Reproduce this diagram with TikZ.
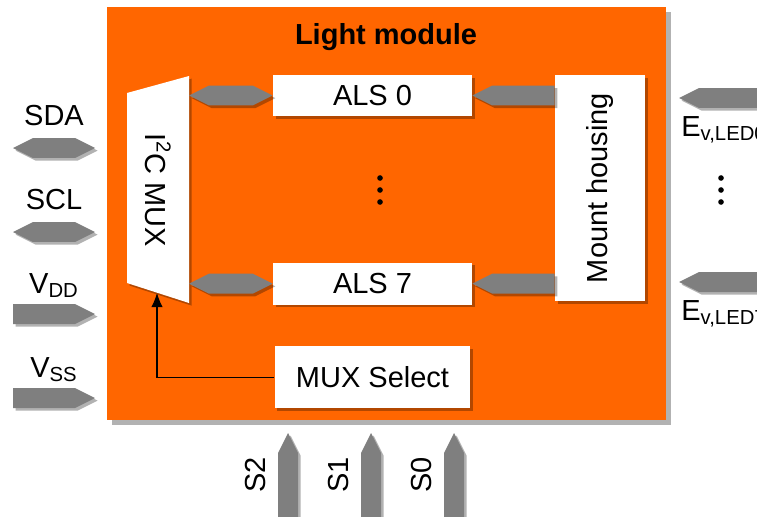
\documentclass[tikz,border=0pt]{standalone}
\usepackage{fontspec}
\setmainfont{Liberation Sans}
\usepackage{graphicx}
\usetikzlibrary{arrows.meta,calc,positioning,shadows}
\definecolor{modorange}{HTML}{FF6600}
\definecolor{pingray}{HTML}{7F7F7F}

\begin{document}
\begin{tikzpicture}[x=0.02cm,y=-0.02cm,>={Latex[length=8pt,width=6.5pt]},
  every node/.style={font=\fontsize{16.5}{19}\selectfont},
  softshadow/.style={drop shadow={shadow xshift=#1,shadow yshift=-#1,opacity=0.3,fill=black}},
  softshadow/.default=1.5pt,
  block/.style={fill=white,inner sep=0pt,minimum width=3.98cm,softshadow},
  busarrow/.style={fill=pingray,softshadow,to path={-- ($(\tikztostart)!0.4cm!(\tikztotarget)!0.2cm!90:(\tikztotarget)$) -- ($(\tikztotarget)!0.4cm!(\tikztostart)!0.2cm!-90:(\tikztostart)$) -- (\tikztotarget) -- ($(\tikztotarget)!0.4cm!(\tikztostart)!0.2cm!90:(\tikztostart)$) -- ($(\tikztostart)!0.4cm!(\tikztotarget)!0.2cm!-90:(\tikztotarget)$) -- cycle}},
  padarrow/.style={fill=pingray,softshadow,to path={($(\tikztostart)!0.2cm!90:(\tikztotarget)$) -- ($(\tikztotarget)!0.4cm!(\tikztostart)!0.2cm!-90:(\tikztostart)$) -- (\tikztotarget) -- ($(\tikztotarget)!0.4cm!(\tikztostart)!0.2cm!90:(\tikztostart)$) -- ($(\tikztostart)!0.2cm!-90:(\tikztotarget)$) -- cycle}}]
\useasboundingbox (0,0) rectangle (757,517);

% module body
\node[fill=modorange,minimum width=11.18cm,minimum height=8.26cm,softshadow=3pt] (module) at (386.5,213.5) {};
\node[font=\bfseries\fontsize{16.5}{19}\selectfont,anchor=base] (title) at (386,45) {Light module};

% i2c mux
\coordinate (muxNW) at (127,93);
\coordinate (muxNE) at (189,76);
\coordinate (muxSE) at (189,303);
\coordinate (muxSW) at (127,283);
\fill[white,softshadow] (muxNW) -- (muxNE) -- (muxSE) -- (muxSW) -- cycle;
\node[rotate=-90] (mux) at (158,190) {I\textsuperscript{2}C MUX};
\coordinate (muxbot) at (157,293);

% sensors and select
\node[block,minimum height=0.82cm] (als0) at (372.5,95.5) {ALS 0};
\node[block,minimum height=0.84cm,below=2.92cm of als0] (als7) {ALS 7};
\node[block,minimum width=3.92cm,minimum height=1.24cm,below=0.82cm of als7] (sel) {MUX Select};
\node[block,minimum width=1.8cm,minimum height=4.52cm] (mount) at (600,188) {\rotatebox{90}{Mount housing}};
\foreach \y in {178,190,202} \fill (380,\y) circle (1.6pt);

% inner connectors
\coordinate (m0) at (muxNE |- als0.west);
\coordinate (m7) at (muxNE |- als7.west);
\fill[busarrow] (m0) to (als0.west);
\fill[busarrow] (m7) to (als7.west);
\coordinate (h0) at (mount.west |- als0.east);
\coordinate (h7) at (mount.west |- als7.east);
\fill[padarrow] (h0) to (als0.east);
\fill[padarrow] (h7) to (als7.east);
\draw[->,line width=0.6pt] (sel.west) -| (muxbot);

% left pins
\coordinate (sdaA) at (13,148); \coordinate (sdaB) at (95,148);
\coordinate (sclA) at (13,232); \coordinate (sclB) at (95,232);
\coordinate (vddA) at (13,314); \coordinate (vddB) at (95,314);
\coordinate (vssA) at (13,398); \coordinate (vssB) at (95,398);
\fill[busarrow] (sdaA) to (sdaB);
\fill[busarrow] (sclA) to (sclB);
\fill[padarrow] (vddA) to (vddB);
\fill[padarrow] (vssA) to (vssB);
\node[anchor=base] (sda) at (54,126) {SDA};
\node[anchor=base] (scl) at (54,209) {SCL};
\node[anchor=base] (vdd) at (54,293) {V\textsubscript{DD}};
\node[anchor=base] (vss) at (54,377) {V\textsubscript{SS}};

% right pins
\coordinate (led0A) at (790,98); \coordinate (led0B) at (679,98);
\coordinate (led7A) at (790,282); \coordinate (led7B) at (679,282);
\fill[padarrow] (led0A) to (led0B);
\fill[padarrow] (led7A) to (led7B);
\node[anchor=base west,inner sep=0pt] (ev0) at (681,136) {E\textsubscript{v,LED0}};
\node[anchor=base west,inner sep=0pt] (ev7) at (681,320) {E\textsubscript{v,LED7}};
\foreach \y in {178,190,202} \fill (721,\y) circle (1.6pt);

% select pins
\foreach \x/\lab/\lx in {288/S2/256,371/S1/339,454/S0/422} {
  \coordinate (s\lab A) at (\x,540);
  \coordinate (s\lab B) at (\x,433);
  \fill[padarrow] (s\lab A) to (s\lab B);
  \node[rotate=90] (l\lab) at (\lx,475) {\lab};
}
\end{tikzpicture}
\end{document}
